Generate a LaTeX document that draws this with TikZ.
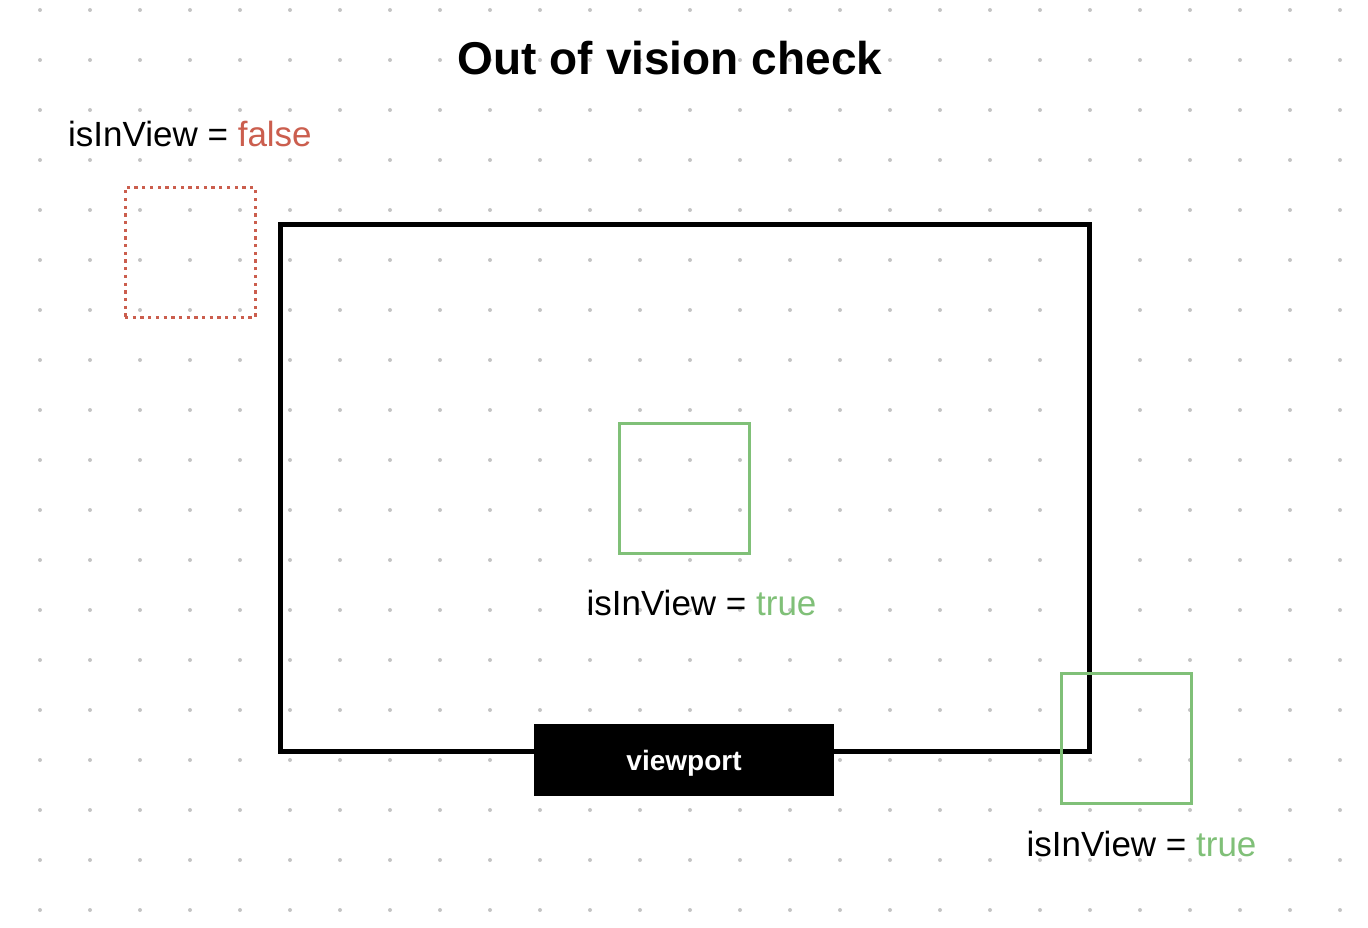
\documentclass[tikz,border=0pt]{standalone}
\usepackage{fontspec}
\setmainfont{Liberation Sans}
\definecolor{redc}{RGB}{203,94,78}
\definecolor{greenc}{RGB}{128,192,120}
\definecolor{dotc}{RGB}{196,196,196}
\tikzset{
  lbl/.style={inner sep=0pt, font=\fontsize{35}{40}\selectfont},
  redbox/.style={draw=redc, line width=3pt, dash pattern=on 3.3pt off 4.4pt, minimum width=130pt, minimum height=130pt, inner sep=0pt},
  greenbox/.style={draw=greenc, line width=3pt, minimum width=130pt, minimum height=130pt, inner sep=0pt},
  viewrect/.style={draw=black, line width=5pt, minimum width=809pt, minimum height=526pt, inner sep=0pt},
  tag/.style={fill=black, text=white, minimum width=300pt, minimum height=72pt, inner sep=0pt, text height=20pt, text depth=0pt, font=\bfseries\fontsize{28}{32}\selectfont}
}
\begin{document}
\begin{tikzpicture}[x=1pt,y=-1pt]
\useasboundingbox (0,0) rectangle (1368,928);
\fill[white] (0,0) rectangle (1368,928);
\foreach \i in {0,...,26} {
  \foreach \j in {0,...,18} {
    \fill[dotc] (40+50*\i,10+50*\j) circle (2);
  }
}
\node[inner sep=0pt, anchor=base, font=\bfseries\fontsize{46}{50}\selectfont] (title) at (670,75) {Out of vision check};
\node[viewrect] (vp) at (684.5,488) {};
\node[redbox] (outbox) at (190,252.5) {};
\node[greenbox] (inbox) at (684.5,488) {};
\node[greenbox] (edgebox) at (1126.5,738.5) {};
\node[tag] (vptag) at (684,760) {viewport};
\node[lbl, anchor=base west] (t1) at (68,147) {isInView = \textcolor{redc}{false}};
\node[lbl, anchor=base] (t2) at (701.5,615) {isInView = \textcolor{greenc}{true}};
\node[lbl, anchor=base] (t3) at (1141.5,856) {isInView = \textcolor{greenc}{true}};
\end{tikzpicture}
\end{document}
